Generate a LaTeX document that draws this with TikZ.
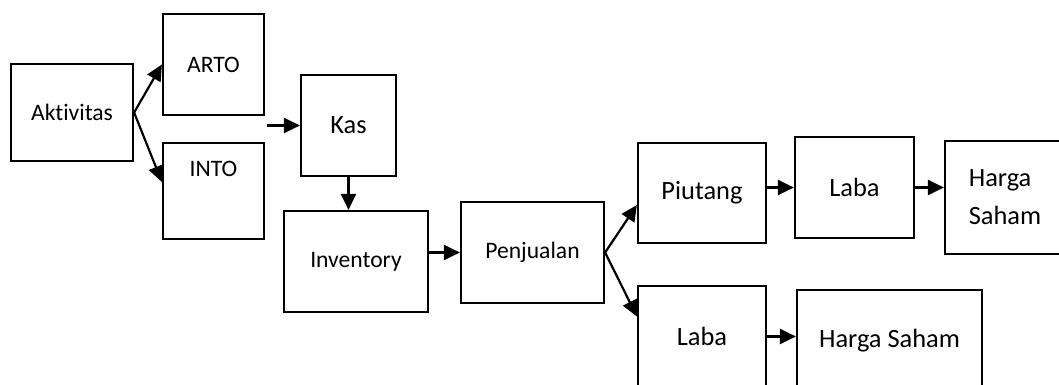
\documentclass[tikz,border=0pt]{standalone}
\usepackage{fontspec}
\setmainfont{Carlito}[Ligatures=NoCommon]
\usetikzlibrary{arrows.meta,calc}
\begin{document}
\begin{tikzpicture}[
    x=0.5pt, y=-0.5pt,
    box/.style={rectangle, draw, line width=1.1pt, inner sep=0pt, text centered, font=\fontsize{11.8}{14}\selectfont},
    bigbox/.style={box, font=\fontsize{13.2}{19}\selectfont},
    arrow/.style={-{Triangle[length=8pt, width=7.5pt]}, line width=1.1pt}
]
    \useasboundingbox (0,0) rectangle (1059,385);
    \clip (0,0) rectangle (1059,385);

    % Activity ratios
    \node[box, minimum width=61pt, minimum height=48.5pt] (aktivitas) at (72,112.5) {Aktivitas};
    \node[box, minimum width=50.5pt, minimum height=50.5pt] (arto) at (213.5,64.5) {ARTO};
    \node[box, minimum width=50.5pt, minimum height=48pt, text depth=22pt] (into) at (213.5,191) {INTO};
    \node[bigbox, minimum width=47.5pt, minimum height=50.5pt] (kas) at (348.5,125.5) {Kas};
    \coordinate (tokas) at (267,125.5);

    % Middle chain
    \node[box, minimum width=72pt, minimum height=50.5pt] (inventory) at (356,261.5) {Inventory};
    \node[box, minimum width=71.5pt, minimum height=50.5pt] (penjualan) at (532.5,252.5) {Penjualan};

    % Right branches
    \node[bigbox, minimum width=64pt, minimum height=50pt] (piutang) at (702,193) {Piutang};
    \node[bigbox, minimum width=59.5pt, minimum height=50.5pt] (labaatas) at (854.5,187.5) {Laba};
    \node[bigbox, minimum width=60pt, minimum height=56.5pt, align=left] (hargaatas) at (1005,197.5) {Harga\\Saham};
    \node[bigbox, minimum width=64pt, minimum height=50.5pt] (lababawah) at (702,336.5) {Laba};
    \node[bigbox, minimum width=92.5pt, minimum height=50.5pt] (hargabawah) at (889.5,340.5) {Harga Saham};

    % Connections
    \draw[arrow] (aktivitas.east) -- (arto.west);
    \draw[arrow] (aktivitas.east) -- ($(into.west)+(0,-9)$);
    \draw[arrow] (tokas) -- (kas.west);
    \draw[arrow] (kas.south) -- (kas.south |- inventory.north);
    \draw[arrow] (inventory.east |- penjualan.west) -- (penjualan.west);
    \draw[arrow] (penjualan.east) -- ($(piutang.west)+(0,12)$);
    \draw[arrow] (penjualan.east) -- ($(lababawah.west)+(0,-20)$);
    \draw[arrow] (labaatas.west -| piutang.east) -- (labaatas.west);
    \draw[arrow] (labaatas.east) -- (labaatas.east -| hargaatas.west);
    \draw[arrow] (lababawah.east) -- (lababawah.east -| hargabawah.west);
\end{tikzpicture}
\end{document}
